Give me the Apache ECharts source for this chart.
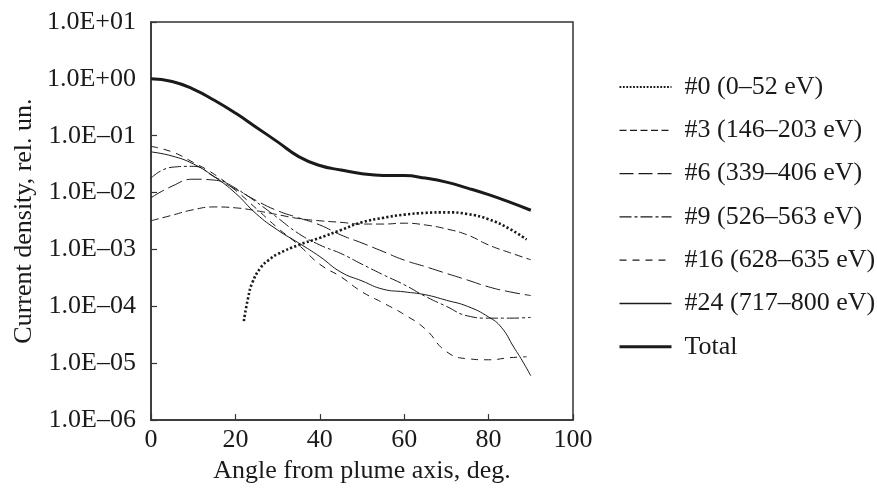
<!DOCTYPE html>
<html>
<head>
<meta charset="utf-8">
<script src="https://cdn.jsdelivr.net/npm/echarts@6/dist/echarts.min.js"></script>
<style>
html,body{margin:0;padding:0;background:#fff;}
#chart{width:877px;height:489px;}
</style>
</head>
<body>
<div id="chart"></div>
<script>
// ---- Data ----
const angles = [0,5,10,15,20,25,30,35,40,45,50,55,60,65,70,75,80,85,90];
const angles0 = [22,23,24,26,28,30,35,40,45,50,55,60,65,70,75,80,85,89];
const angles16 = [0,5,10,15,20,25,30,35,40,45,50,55,60,65,70,75,80,85,89];
const angles24 = [0,5,10,15,20,25,30,35,40,45,50,55,60,65,70,75,80,83,86,88,90];

const s0  = [5.5e-5,1.4e-4,2.6e-4,4.8e-4,6.6e-4,8.3e-4,1.2e-3,1.6e-3,2.2e-3,3.0e-3,3.6e-3,4.1e-3,4.4e-3,4.5e-3,4.2e-3,3.4e-3,2.3e-3,1.5e-3];
const s3  = [0.0032,0.0040,0.0050,0.0056,0.0054,0.0048,0.0041,0.0035,0.0032,0.0030,0.0028,0.0028,0.0029,0.0027,0.0023,0.0018,0.0012,0.00088,0.00066];
const s6  = [0.0081,0.013,0.0172,0.0166,0.0115,0.0072,0.0048,0.0036,0.0027,0.0018,0.0013,0.00092,0.00065,0.0005,0.00038,0.00029,0.00022,0.00018,0.000155];
const s9  = [0.018,0.028,0.029,0.019,0.012,0.0068,0.0036,0.0019,0.0012,0.00085,0.00055,0.00036,0.00024,0.00015,0.0001,0.000068,0.000062,0.000062,0.000064];
const s16 = [0.065,0.052,0.034,0.021,0.011,0.0052,0.0024,0.0012,0.00055,0.00033,0.00018,0.000115,0.000072,0.00004,0.000016,0.000012,0.0000115,0.0000125,0.000013];
const s24 = [0.052,0.044,0.032,0.019,0.0098,0.0042,0.0022,0.0013,0.00075,0.0004,0.00028,0.0002,0.00018,0.00016,0.000128,0.0001,0.000065,0.000043,0.000019,0.000011,0.000006];
const sTotal = [1.0,0.90,0.66,0.42,0.25,0.14,0.078,0.043,0.030,0.025,0.0215,0.0200,0.0199,0.0180,0.0153,0.012,0.0092,0.0068,0.0049];

const seriesNames = ['#0 (0–52 eV)','#3 (146–203 eV)','#6 (339–406 eV)','#9 (526–563 eV)','#16 (628–635 eV)','#24 (717–800 eV)','Total'];
const yTickLabels = ['1.0E–06','1.0E–05','1.0E–04','1.0E–03','1.0E–02','1.0E–01','1.0E+00','1.0E+01'];
const xTicks = [0,20,40,60,80,100];

const FONT = '"Liberation Serif","Times New Roman",serif';
const FS = 26;
const INK = '#1a1a1a';

function pairs(xs, ys){ return xs.map((x,i)=>[x, ys[i]]); }

const defs = [
  {x: angles0,  y: s0,    style: {width: 2.6, type: [2.2, 2.2]}, legend: {width: 1.8, type: [1.8, 1.6]}},
  {x: angles,   y: s3,    style: {width: 1, type: [8, 4]},       legend: {width: 1.3, type: [7, 3.5]}},
  {x: angles,   y: s6,    style: {width: 1, type: [15, 5]},      legend: {width: 1.3, type: [14, 5]}},
  {x: angles,   y: s9,    style: {width: 1, type: [12, 3, 3, 3]},legend: {width: 1.3, type: [12, 3, 3, 3]}},
  {x: angles16, y: s16,   style: {width: 1, type: [7, 6]},       legend: {width: 1.3, type: [7, 6]}},
  {x: angles24, y: s24,   style: {width: 1, type: 'solid'},      legend: {width: 1.3, type: 'solid'}},
  {x: angles,   y: sTotal,style: {width: 3, type: 'solid'},      legend: {width: 3, type: 'solid'}}
];

const series = defs.map((d, i) => ({
  name: seriesNames[i],
  type: 'line',
  data: pairs(d.x, d.y),
  smooth: 0.5,
  symbol: 'none',
  showSymbol: false,
  lineStyle: {color: INK, width: d.style.width, type: d.style.type, cap: 'butt'},
  itemStyle: {color: INK},
  emphasis: {disabled: true},
  silent: true,
  animation: false
}));

const chart = echarts.init(document.getElementById('chart'), null, {renderer: 'canvas'});
chart.setOption({
  backgroundColor: '#fff',
  animation: false,
  grid: {left: 151, right: 304, top: 22, bottom: 68, show: true, borderColor: '#333', borderWidth: 1.5, containLabel: false},
  xAxis: {
    type: 'value', min: xTicks[0], max: xTicks[xTicks.length-1], interval: 20,
    name: 'Angle from plume axis, deg.', nameLocation: 'middle', nameGap: 34,
    nameTextStyle: {fontFamily: FONT, fontSize: FS, color: INK},
    axisLine: {show: true, onZero: false, lineStyle: {color: '#333', width: 1.5}},
    axisTick: {show: true, inside: true, length: 6, lineStyle: {color: '#333', width: 1.2}},
    axisLabel: {fontFamily: FONT, fontSize: FS, color: INK, margin: 7},
    splitLine: {show: false}
  },
  yAxis: {
    type: 'log', logBase: 10, min: 1e-6, max: 10, interval: 1,
    name: 'Current density, rel. un.', nameLocation: 'middle', nameGap: 114, nameRotate: 90,
    nameTextStyle: {fontFamily: FONT, fontSize: FS, color: INK},
    axisLine: {show: true, lineStyle: {color: '#333', width: 1.5}},
    axisTick: {show: true, inside: true, length: 6, lineStyle: {color: '#333', width: 1.2}},
    axisLabel: {fontFamily: FONT, fontSize: FS, color: INK, margin: 15,
      formatter: v => yTickLabels[Math.round(Math.log10(v)) + 6]},
    splitLine: {show: false},
    minorTick: {show: false}
  },
  legend: {
    orient: 'vertical', left: 618, top: 74, padding: 0,
    itemWidth: 52, itemHeight: 14, itemGap: 17.3,
    selectedMode: false,
    itemStyle: {opacity: 0},
    textStyle: {fontFamily: FONT, fontSize: FS, color: INK, lineHeight: 26, padding: [0,0,0,8]},
    data: seriesNames.map((n, i) => ({
      name: n,
      lineStyle: {color: INK, width: defs[i].legend.width, type: defs[i].legend.type, cap: 'butt'}
    }))
  },
  series: series
});
</script>
</body>
</html>
